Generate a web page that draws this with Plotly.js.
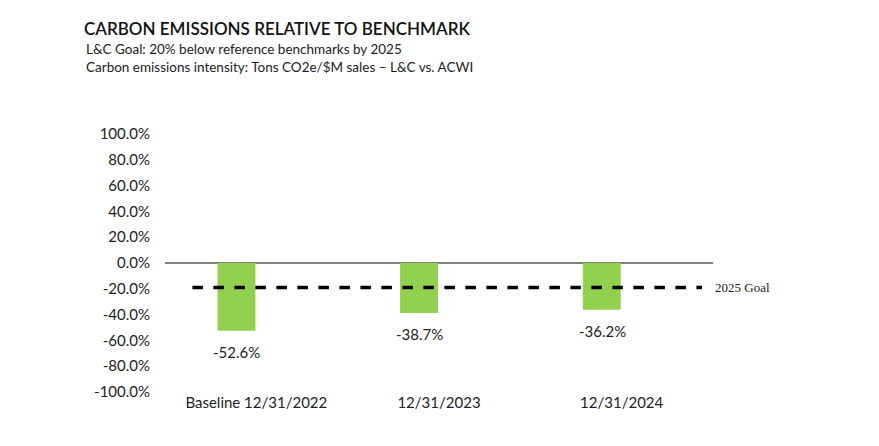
<!DOCTYPE html>
<html>
<head>
<meta charset="utf-8">
<script src="https://cdn.plot.ly/plotly-3.0.1.min.js"></script>
<style>html,body{margin:0;padding:0;background:#fff;}#chart{width:879px;height:446px;}</style>
</head>
<body>
<div id="chart"></div>
<script>
const categories = ["Baseline 12/31/2022", "12/31/2023", "12/31/2024"];
const values = [-52.6, -38.7, -36.2];
const goalValue = -19;
const goalLabel = "2025 Goal";
const yTicks = [100, 80, 60, 40, 20, 0, -20, -40, -60, -80, -100];
const yTickText = yTicks.map(v => v.toFixed(1) + "%");

const bars = {
  type: "bar",
  x: categories,
  y: values,
  width: 0.208,
  offset: -0.213,
  marker: {color: "#92d050"},
  hoverinfo: "none"
};

const valueLabels = categories.map((c, i) => ({
  text: values[i].toFixed(1) + "%", xref: "x", yref: "y", x: c, y: values[i],
  xshift: -19.5, yshift: -10, xanchor: "center", yanchor: "top", showarrow: false,
  font: {family: "Lato, sans-serif", size: 15, color: "#222"}
}));

const layout = {
  width: 879, height: 446,
  margin: {l: 165, r: 166, t: 134, b: 54},
  paper_bgcolor: "#fff", plot_bgcolor: "#fff",
  showlegend: false,
  title: {text: "CARBON EMISSIONS RELATIVE TO BENCHMARK", x: 84/879, xanchor: "left", xref: "container",
          y: 1 - 29/446, yanchor: "middle", yref: "container", pad: {t: 0, b: 0},
          font: {family: "Lato, sans-serif", size: 17, color: "#111", weight: 600}},
  xaxis: {
    type: "category", range: [-0.5, 2.5], showgrid: false, showline: false, zeroline: false,
    ticks: "", tickfont: {family: "Lato, sans-serif", size: 15, color: "#222"},
    fixedrange: true
  },
  yaxis: {
    range: [-100, 100], tickvals: yTicks, ticktext: yTickText, showgrid: false,
    zeroline: true, zerolinecolor: "#808080", zerolinewidth: 1.5, showline: false, ticks: "",
    tickfont: {family: "Lato, sans-serif", size: 15, color: "#222"}, ticklabelstandoff: 14,
    fixedrange: true
  },
  shapes: [{
    type: "line", xref: "x", yref: "y", x0: -0.35, x1: 2.44, y0: goalValue, y1: goalValue,
    line: {color: "#000", width: 3.5, dash: "dash"}
  }],
  annotations: [
    {text: "L&C Goal: 20% below reference benchmarks by 2025", xref: "paper", yref: "paper",
     x: (84-165)/548, y: 1 + (134-48.5)/258, xanchor: "left", yanchor: "middle", showarrow: false,
     font: {family: "Lato, sans-serif", size: 13.5, color: "#222"}},
    {text: "Carbon emissions intensity: Tons CO2e/$M sales – L&C vs. ACWI", xref: "paper", yref: "paper",
     x: (84-165)/548, y: 1 + (134-67)/258, xanchor: "left", yanchor: "middle", showarrow: false,
     font: {family: "Lato, sans-serif", size: 13.5, color: "#222"}},
    {text: goalLabel, xref: "x", yref: "y", x: 2.5, y: goalValue, xanchor: "left", yanchor: "middle", xshift: 0, showarrow: false,
     font: {family: "Liberation Serif, serif", size: 13, color: "#222"}}
  ].concat(valueLabels)
};

Plotly.newPlot("chart", [bars], layout, {displayModeBar: false, staticPlot: true});
</script>
</body>
</html>
